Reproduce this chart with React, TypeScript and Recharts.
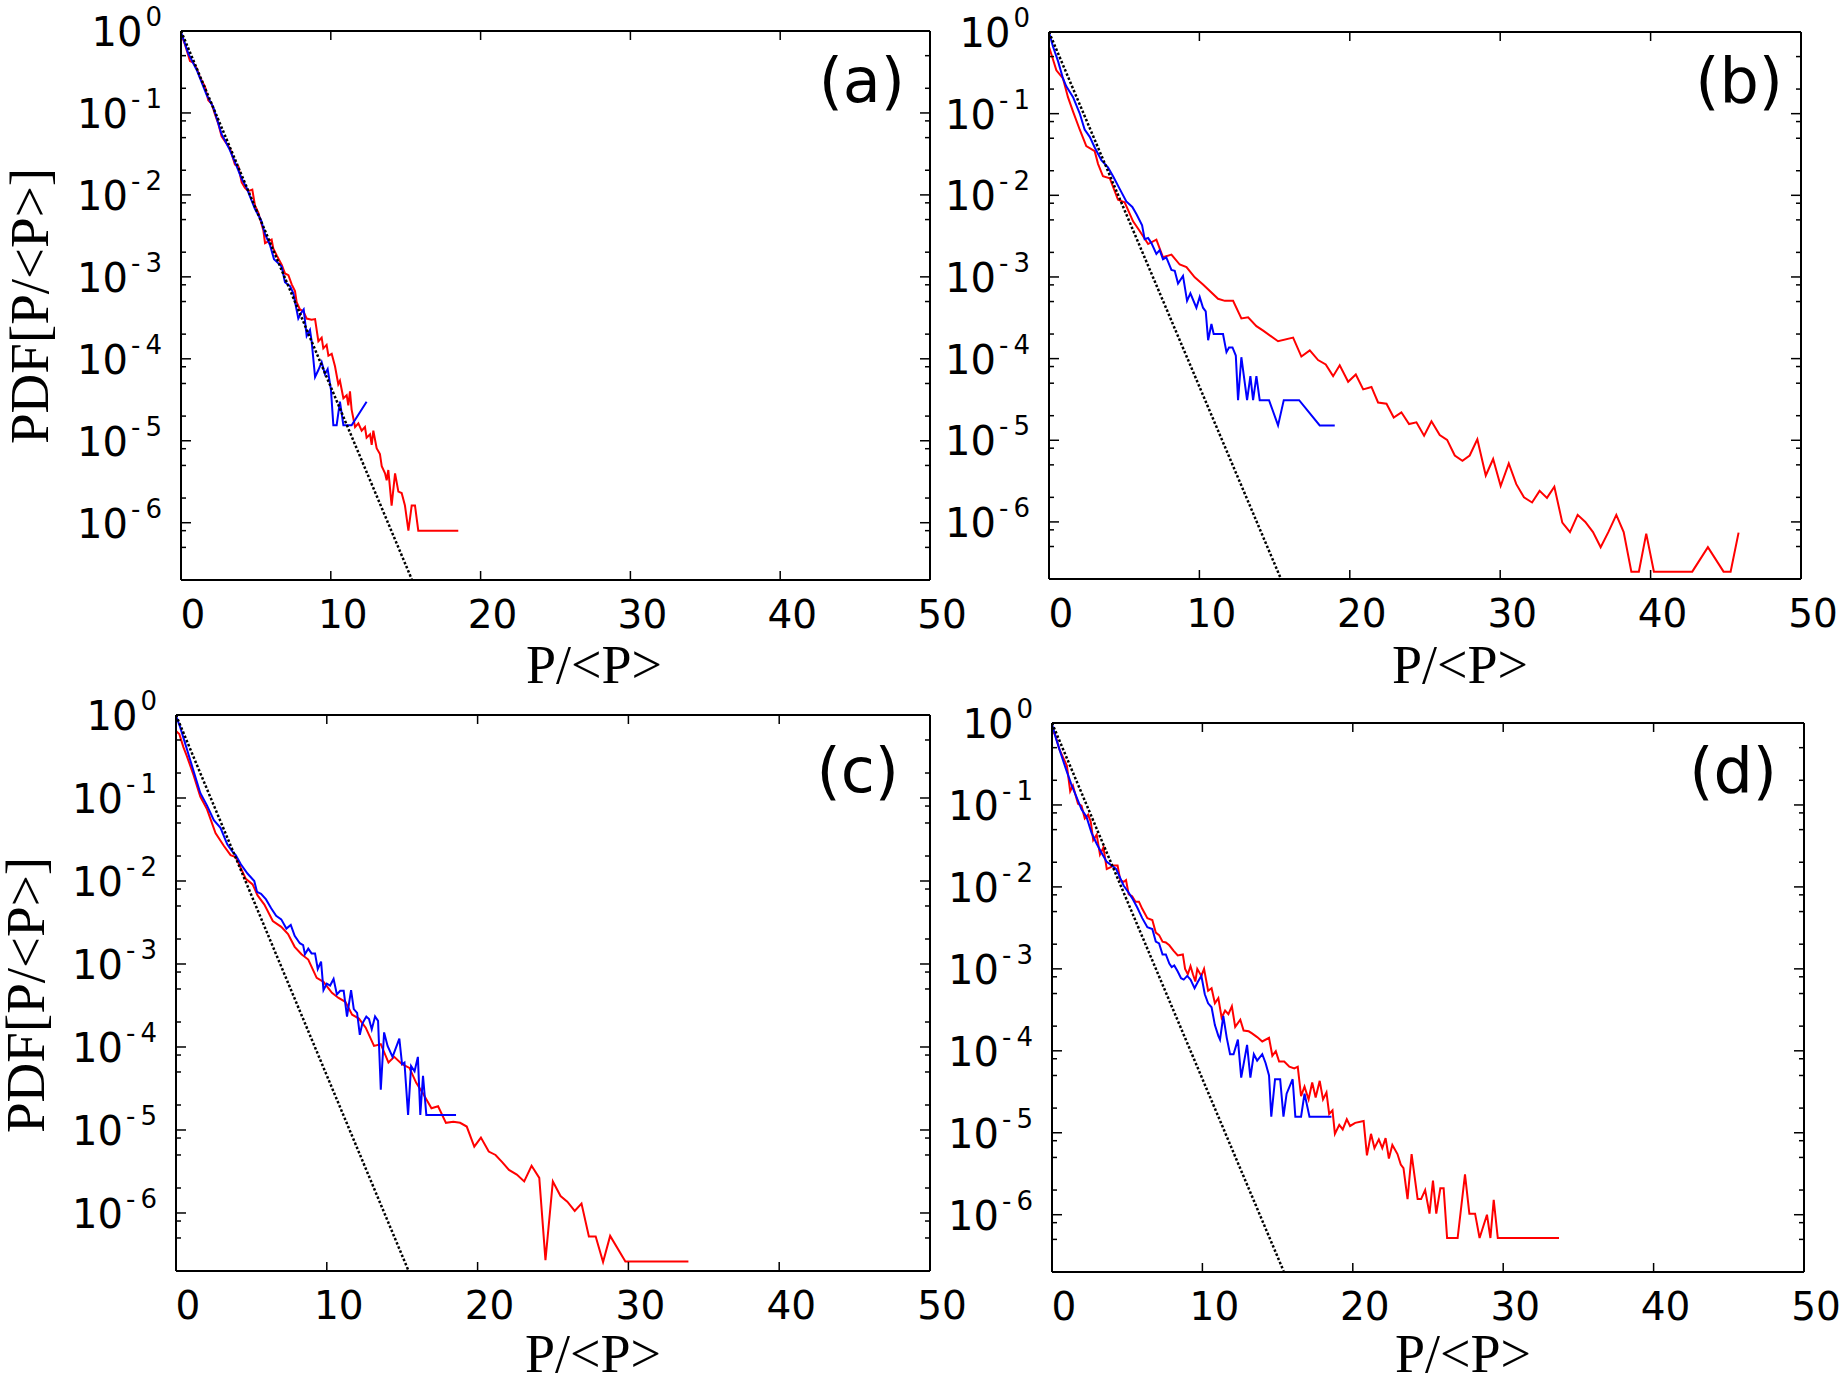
import React from 'react';
import { LineChart, Line, XAxis, YAxis } from 'recharts';

type Pair = [number, number];

// axes
const xDomain: [number, number] = [0, 50];
const yDomain: [number, number] = [2e-7, 1];
const xTicks = [0, 10, 20, 30, 40, 50];
const xTopTicks = [10, 20, 30, 40];
const yMajorTicks = [1, 1e-1, 1e-2, 1e-3, 1e-4, 1e-5, 1e-6];
const yMinorTicks = [
  0.5, 0.2, 0.08, 0.05, 0.02, 8e-3, 5e-3, 2e-3, 8e-4, 5e-4, 2e-4, 8e-5, 5e-5, 2e-5, 8e-6,
  5e-6, 2e-6, 8e-7, 5e-7,
];

const xTitle = 'P/<P>';
const yTitle = 'PDF[P/<P>]';
const panelLabels = ['(a)', '(b)', '(c)', '(d)'];

// exponential reference: (0, 1) to where it leaves the frame
const expRef: Pair[] = [[0, 1], [15.4, 2.05e-7]];

// panel (a)
const aRed: Pair[] = [
  [0, 0.93], [0.27, 0.68], [0.6, 0.43], [0.82, 0.41], [1.05, 0.35], [1.27, 0.27], [1.6, 0.21],
  [1.82, 0.143], [2.05, 0.129], [2.27, 0.096], [2.49, 0.074], [2.71, 0.052], [2.94, 0.045],
  [3.27, 0.037], [3.6, 0.0235], [3.83, 0.0223], [4.05, 0.0142], [4.27, 0.0122], [4.49, 0.0111],
  [4.76, 0.0116], [4.94, 0.0074], [5.16, 0.0061], [5.5, 0.00367], [5.61, 0.00258], [5.83, 0.00271],
  [6.05, 0.00285], [6.16, 0.00222], [6.39, 0.00182], [6.72, 0.00141], [6.94, 0.0011], [7.17, 0.00105],
  [7.39, 8.1e-4], [7.61, 6.7e-4], [7.72, 4.9e-4], [7.94, 4.0e-4], [8.17, 3.8e-4], [8.39, 3.1e-4],
  [8.72, 3.0e-4], [8.95, 3.05e-4], [9.17, 1.64e-4], [9.39, 1.81e-4], [9.5, 1.34e-4], [9.72, 1.48e-4],
  [9.84, 1.09e-4], [10.06, 1.15e-4], [10.28, 8.1e-5], [10.5, 4.9e-5], [10.61, 5.4e-5], [10.84, 3.3e-5],
  [11.06, 3.6e-5], [11.17, 2.7e-5], [11.28, 4.0e-5], [11.39, 2.4e-5], [11.62, 1.47e-5], [11.84, 1.63e-5],
  [12.06, 1.33e-5], [12.28, 1.47e-5], [12.39, 1.09e-5], [12.62, 1.2e-5], [12.73, 8.9e-6], [12.84, 1.33e-5],
  [13.06, 8.1e-6], [13.28, 6.9e-6], [13.4, 4.9e-6], [13.62, 4.0e-6], [13.73, 3.3e-6], [13.84, 4.4e-6],
  [14.06, 1.62e-6], [14.29, 4.0e-6], [14.51, 2.4e-6], [14.73, 2.3e-6], [14.95, 1.62e-6], [15.18, 8.0e-7],
  [15.4, 1.62e-6], [15.62, 1.62e-6], [15.84, 8.0e-7], [18.51, 8.0e-7],
];
const aBlue: Pair[] = [
  [0, 0.97], [0.49, 0.53], [1.05, 0.335], [1.71, 0.166], [2.16, 0.117], [2.71, 0.055], [2.94, 0.046],
  [3.27, 0.035], [3.72, 0.0223], [4.05, 0.0157], [4.38, 0.0122], [4.94, 0.0067], [5.34, 0.00495],
  [5.61, 0.00332], [5.94, 0.00245], [6.21, 0.00164], [6.5, 0.00146], [6.72, 0.00134], [6.94, 8.6e-4],
  [7.28, 7.7e-4], [7.5, 6.3e-4], [7.83, 3.1e-4], [8.01, 3.6e-4], [8.19, 4.0e-4], [8.39, 1.9e-4],
  [8.61, 2.25e-4], [8.72, 1.64e-4], [8.95, 6.0e-5], [9.17, 7.3e-5], [9.39, 9.1e-5], [9.61, 6.5e-5],
  [9.79, 7.5e-5], [10.01, 4.2e-5], [10.17, 1.55e-5], [10.39, 1.55e-5], [10.61, 3.0e-5], [10.84, 1.55e-5],
  [11.39, 1.55e-5], [12.39, 3.0e-5],
];

// panel (b)
const bRed: Pair[] = [
  [0, 0.66], [0.22, 0.49], [0.49, 0.34], [0.93, 0.27], [1.26, 0.159], [1.6, 0.106], [2.04, 0.064],
  [2.48, 0.04], [3.04, 0.0347], [3.26, 0.0243], [3.59, 0.0171], [4.04, 0.0162], [4.59, 0.0088],
  [5.03, 0.0082], [5.59, 0.0048], [6.03, 0.00365], [6.59, 0.00253], [7.14, 0.00286], [7.58, 0.00174],
  [8.14, 0.00188], [8.69, 0.00142], [9.14, 0.00132], [9.69, 9.9e-4], [10.24, 8.1e-4], [11.24, 5.4e-4],
  [11.69, 5.1e-4], [12.24, 5.1e-4], [12.79, 3.1e-4], [13.24, 3.2e-4], [13.79, 2.5e-4], [14.24, 2.2e-4],
  [15.23, 1.63e-4], [16.23, 1.81e-4], [16.78, 1.06e-4], [17.34, 1.26e-4], [17.89, 9.6e-5], [18.4, 8.5e-5],
  [18.89, 6.1e-5], [19.33, 8.3e-5], [19.89, 5.2e-5], [20.4, 6.4e-5], [20.89, 4.2e-5], [21.44, 4.5e-5],
  [21.88, 2.9e-5], [22.44, 2.8e-5], [22.92, 1.9e-5], [23.43, 2.2e-5], [23.94, 1.58e-5], [24.43, 1.66e-5],
  [24.94, 1.14e-5], [25.43, 1.71e-5], [25.98, 1.16e-5], [26.47, 1.01e-5], [26.98, 6.5e-6], [27.49, 5.6e-6],
  [27.97, 6.5e-6], [28.48, 1.03e-5], [29.04, 3.7e-6], [29.53, 5.9e-6], [30.03, 2.75e-6], [30.57, 5.2e-6],
  [31.07, 2.9e-6], [31.58, 2.0e-6], [32.12, 1.73e-6], [32.62, 2.4e-6], [33.11, 1.97e-6], [33.6, 2.7e-6],
  [34.13, 9.8e-7], [34.64, 7.5e-7], [35.15, 1.22e-6], [35.66, 1.0e-6], [36.17, 7.5e-7], [36.68, 4.9e-7],
  [37.19, 7.5e-7], [37.72, 1.22e-6], [38.21, 7.5e-7], [38.72, 2.46e-7], [39.22, 2.46e-7], [39.71, 7.2e-7],
  [40.22, 2.46e-7], [42.77, 2.46e-7], [43.81, 4.9e-7], [44.85, 2.46e-7], [45.32, 2.46e-7], [45.85, 7.4e-7],
];
const bBlue: Pair[] = [
  [0, 0.99], [0.27, 0.66], [0.6, 0.44], [0.93, 0.27], [1.15, 0.216], [1.6, 0.159], [2.04, 0.101],
  [2.37, 0.064], [2.71, 0.052], [3.04, 0.0385], [3.48, 0.0269], [3.92, 0.022], [4.26, 0.0171],
  [4.7, 0.012], [5.14, 0.0084], [5.54, 0.0072], [5.81, 0.0059], [6.19, 0.0043], [6.36, 0.0029],
  [6.59, 0.003], [6.81, 0.0026], [7.14, 0.00192], [7.36, 0.00213], [7.58, 0.00165], [7.8, 0.00174],
  [8.14, 0.00122], [8.36, 0.00119], [8.58, 8.3e-4], [8.91, 0.00103], [9.18, 5.1e-4], [9.4, 6.3e-4],
  [9.8, 4.2e-4], [10.02, 5.7e-4], [10.24, 4.2e-4], [10.42, 3.8e-4], [10.58, 1.68e-4], [10.8, 2.65e-4],
  [10.95, 2.0e-4], [11.57, 2.0e-4], [11.8, 1.2e-4], [11.97, 1.37e-4], [12.2, 1.37e-4], [12.42, 1.09e-4],
  [12.57, 3.1e-5], [12.79, 1.04e-4], [13.17, 3.1e-5], [13.39, 6.1e-5], [13.57, 3.1e-5], [13.79, 6.1e-5],
  [14.01, 3.1e-5], [14.63, 3.1e-5], [15.23, 1.52e-5], [15.61, 3.1e-5], [16.63, 3.1e-5], [18, 1.52e-5],
  [19, 1.52e-5],
];

// panel (c)
const cRed: Pair[] = [
  [0, 0.64], [0.22, 0.59], [0.49, 0.41], [0.72, 0.32], [1.16, 0.19], [1.61, 0.104], [2.06, 0.073],
  [2.62, 0.0377], [3.18, 0.0264], [3.62, 0.0205], [3.96, 0.0194], [4.3, 0.0143], [4.63, 0.0106],
  [5.08, 0.0091], [5.41, 0.0067], [5.86, 0.0052], [6.42, 0.0033], [6.98, 0.0028], [7.43, 0.0023],
  [7.87, 0.00161], [8.32, 0.00131], [8.77, 0.00113], [9.33, 6.8e-4], [9.78, 6.1e-4], [10.34, 4.5e-4],
  [10.78, 3.9e-4], [11.23, 3.5e-4], [11.68, 2.45e-4], [12.13, 2.2e-4], [12.58, 1.71e-4], [13.13, 1.03e-4],
  [13.58, 1.08e-4], [14.09, 6.5e-5], [14.47, 7.6e-5], [14.99, 6.2e-5], [15.48, 5.6e-5], [15.93, 3.7e-5],
  [16.38, 2.75e-5], [16.94, 1.83e-5], [17.38, 1.93e-5], [17.9, 1.22e-5], [18.39, 1.26e-5], [18.84, 1.22e-5],
  [19.28, 1.1e-5], [19.78, 6.3e-6], [20.22, 8.1e-6], [20.74, 5.5e-6], [21.19, 5.0e-6], [21.63, 4.1e-6],
  [22.08, 3.3e-6], [22.6, 2.9e-6], [23.09, 2.4e-6], [23.58, 3.7e-6], [24.09, 2.65e-6], [24.5, 2.7e-7],
  [24.99, 2.4e-6], [25.5, 1.6e-6], [25.95, 1.37e-6], [26.44, 1.06e-6], [26.89, 1.3e-6], [27.38, 5.2e-7],
  [27.83, 5.2e-7], [28.32, 2.56e-7], [28.79, 5.3e-7], [29.8, 2.6e-7], [33.98, 2.6e-7],
];
const cBlue: Pair[] = [
  [0, 0.975], [0.27, 0.72], [0.72, 0.39], [1.16, 0.212], [1.61, 0.115], [2.06, 0.081], [2.51, 0.054],
  [2.95, 0.0438], [3.4, 0.0277], [3.74, 0.0226], [3.96, 0.0205], [4.3, 0.0159], [4.74, 0.0123],
  [5.19, 0.01], [5.37, 0.0074], [5.64, 0.007], [5.97, 0.006], [6.31, 0.0047], [6.64, 0.0038],
  [6.98, 0.00345], [7.32, 0.00267], [7.61, 0.00296], [7.87, 0.00218], [8.21, 0.00178], [8.43, 0.00169],
  [8.55, 0.00131], [8.77, 0.00153], [8.99, 0.00134], [9.22, 0.00134], [9.4, 8.7e-4], [9.62, 0.00107],
  [9.78, 4.85e-4], [10, 5.8e-4], [10.22, 5.5e-4], [10.45, 6.6e-4], [10.67, 4.3e-4], [10.89, 4.75e-4],
  [11.12, 4.75e-4], [11.34, 2.33e-4], [11.61, 4.85e-4], [11.79, 2.86e-4], [12.01, 2.58e-4], [12.19, 1.4e-4],
  [12.35, 1.9e-4], [12.62, 2.33e-4], [12.8, 2.17e-4], [12.98, 1.63e-4], [13.2, 2.33e-4], [13.4, 2.06e-4],
  [13.58, 3.05e-5], [13.8, 1.5e-4], [14.03, 1.03e-4], [14.36, 7.6e-5], [14.81, 1.26e-4], [14.99, 6.2e-5],
  [15.15, 6.5e-5], [15.39, 1.52e-5], [15.59, 5.9e-5], [15.82, 5.1e-5], [16.04, 7.6e-5], [16.2, 1.52e-5],
  [16.38, 4.5e-5], [16.6, 1.52e-5], [18.57, 1.52e-5],
];

// panel (d)
const dRed: Pair[] = [
  [0, 0.83], [0.22, 0.71], [0.49, 0.475], [0.83, 0.35], [0.99, 0.3], [1.21, 0.147], [1.39, 0.172],
  [1.73, 0.103], [1.96, 0.098], [2.18, 0.0686], [2.4, 0.076], [2.58, 0.062], [2.74, 0.0372],
  [2.97, 0.0434], [3.19, 0.0248], [3.42, 0.0303], [3.64, 0.0165], [3.87, 0.0173], [4.09, 0.0182],
  [4.36, 0.0182], [4.54, 0.0121], [4.76, 0.0115], [4.92, 0.0121], [5.1, 0.0081], [5.33, 0.0077],
  [5.55, 0.0066], [5.78, 0.0066], [6, 0.0054], [6.34, 0.00416], [6.67, 0.00395], [6.9, 0.00277],
  [7.12, 0.00258], [7.35, 0.00215], [7.57, 0.0021], [7.8, 0.00194], [8.09, 0.00166], [8.36, 0.00146],
  [8.7, 0.0015], [8.85, 0.001], [9.03, 8.6e-4], [9.21, 0.00108], [9.37, 8.6e-4], [9.53, 7.0e-4],
  [9.66, 0.001], [9.93, 8.2e-4], [10.11, 0.001], [10.38, 5.4e-4], [10.61, 5.8e-4], [10.83, 3.8e-4],
  [11.06, 4.4e-4], [11.28, 2.53e-4], [11.51, 3.1e-4], [11.73, 2.8e-4], [11.96, 3.5e-4], [12.18, 1.96e-4],
  [12.52, 2.4e-4], [12.74, 1.77e-4], [13.08, 1.73e-4], [13.3, 1.63e-4], [13.64, 1.47e-4], [13.98, 1.3e-4],
  [14.43, 1.44e-4], [14.65, 8.7e-5], [14.88, 9.9e-5], [15.1, 7.4e-5], [15.44, 7.4e-5], [15.78, 6.4e-5],
  [16.11, 6.1e-5], [16.34, 6.4e-5], [16.56, 2.8e-5], [16.79, 3.65e-5], [17.06, 2.55e-5], [17.3, 4.1e-5],
  [17.53, 2.7e-5], [17.8, 4.3e-5], [18.02, 2.55e-5], [18.25, 3.1e-5], [18.43, 1.7e-5], [18.65, 1.88e-5],
  [18.81, 9.7e-6], [19.1, 1.25e-5], [19.33, 1.1e-5], [19.6, 1.46e-5], [19.82, 1.21e-5], [20.16, 1.32e-5],
  [20.72, 1.39e-5], [20.94, 5.3e-6], [21.21, 9.7e-6], [21.44, 6.5e-6], [21.73, 8.3e-6], [21.96, 6.5e-6],
  [22.18, 8.6e-6], [22.4, 4.85e-6], [22.63, 7.1e-6], [22.97, 5.5e-6], [23.19, 4.1e-6], [23.37, 3.7e-6],
  [23.64, 1.55e-6], [23.91, 5.5e-6], [24.31, 1.55e-6], [24.54, 1.55e-6], [24.81, 2.0e-6], [25.1, 1.03e-6],
  [25.33, 2.6e-6], [25.55, 1.03e-6], [25.82, 2.1e-6], [26.04, 2.1e-6], [26.27, 5.2e-7], [26.97, 5.2e-7],
  [27.46, 3.1e-6], [27.75, 1.03e-6], [28.13, 1.03e-6], [28.43, 5.2e-7], [28.92, 1.0e-6], [29.15, 5.2e-7],
  [29.37, 1.52e-6], [29.64, 5.2e-7], [33.71, 5.2e-7],
];
const dBlue: Pair[] = [
  [0, 0.97], [0.27, 0.645], [0.61, 0.41], [0.94, 0.27], [1.28, 0.18], [1.62, 0.126], [1.96, 0.0885],
  [2.29, 0.072], [2.63, 0.0456], [2.97, 0.0336], [3.3, 0.026], [3.64, 0.0202], [3.98, 0.0182],
  [4.27, 0.0165], [4.54, 0.0128], [4.76, 0.0104], [5.1, 0.0085], [5.33, 0.0073], [5.66, 0.00565],
  [6, 0.00416], [6.34, 0.00323], [6.67, 0.00307], [6.9, 0.00215], [7.12, 0.00204], [7.35, 0.0015],
  [7.57, 0.0015], [7.8, 0.00116], [7.96, 0.00105], [8.13, 0.0011], [8.36, 9.3e-4], [8.58, 7.7e-4],
  [8.76, 7.4e-4], [8.99, 8.2e-4], [9.21, 7.4e-4], [9.48, 5.8e-4], [9.71, 7.0e-4], [9.93, 8.2e-4],
  [10.16, 4.9e-4], [10.38, 3.8e-4], [10.61, 3.4e-4], [10.83, 2.06e-4], [11.06, 1.52e-4], [11.17, 1.37e-4],
  [11.39, 2.66e-4], [11.62, 1.44e-4], [11.84, 9.1e-5], [12.07, 9.1e-5], [12.36, 1.37e-4], [12.58, 4.7e-5],
  [12.97, 1.18e-4], [13.19, 4.7e-5], [13.42, 9.1e-5], [13.64, 7.6e-5], [13.98, 9.1e-5], [14.2, 7.1e-5],
  [14.43, 5.0e-5], [14.58, 1.57e-5], [14.83, 4.5e-5], [15.17, 4.5e-5], [15.39, 1.57e-5], [15.6, 3.0e-5],
  [16, 4.5e-5], [16.18, 1.57e-5], [16.56, 1.57e-5], [16.79, 3.0e-5], [17.12, 1.57e-5], [18.58, 1.57e-5],
];

const toPoints = (pairs: Pair[]) => pairs.map(([x, y]) => ({ x, y }));

const TICK_FONT = 'DejaVu Sans, Verdana, sans-serif';
const TITLE_FONT = 'Liberation Serif, Times New Roman, serif';

const isMajor = (v: number) => {
  const e = Math.log10(v);
  return Math.abs(e - Math.round(e)) < 1e-6;
};

function LeftTick(props: any) {
  const { x, y, payload } = props;
  const v = payload.value as number;
  const major = isMajor(v);
  const k = Math.round(Math.log10(v));
  return (
    <g>
      <line x1={x} x2={x + (major ? 10 : 5)} y1={y} y2={y} stroke="#000" strokeWidth={1.5} />
      {major && (
        <text x={x - 19} y={y + 15} textAnchor="end" fontFamily={TICK_FONT} fontSize={40} fill="#000">
          10
          <tspan dx={3} dy={-20} fontSize={26}>
            {k === 0 ? '0' : `-\u2009${-k}`}
          </tspan>
        </text>
      )}
    </g>
  );
}

function RightTick(props: any) {
  const { x, y, payload } = props;
  const len = isMajor(payload.value) ? 10 : 5;
  return <line x1={x} x2={x - len} y1={y} y2={y} stroke="#000" strokeWidth={1.5} />;
}

function BottomTick(props: any) {
  const { x, y, payload } = props;
  return (
    <g>
      <line x1={x} x2={x} y1={y} y2={y - 9} stroke="#000" strokeWidth={1.5} />
      <text x={x + 12} y={y + 48} textAnchor="middle" fontFamily={TICK_FONT} fontSize={39} fill="#000">
        {payload.value}
      </text>
    </g>
  );
}

function TopTick(props: any) {
  const { x, y } = props;
  return <line x1={x} x2={x} y1={y} y2={y + 9} stroke="#000" strokeWidth={1.5} />;
}

type Box = { left: number; top: number; width: number; height: number };
type Plot = { left: number; top: number; right: number; bottom: number };

const frame = { stroke: '#000', strokeWidth: 2 };
// each axis gets a 1px band (Recharts skips axes with zero size)
const AX = 1;

function Panel({ box, plot, red, blue }: { box: Box; plot: Plot; red: Pair[]; blue: Pair[] }) {
  const margin = {
    left: plot.left - box.left - AX,
    top: plot.top - box.top - AX,
    right: box.left + box.width - plot.right - AX,
    bottom: box.top + box.height - plot.bottom - AX,
  };
  return (
    <div style={{ position: 'absolute', left: box.left, top: box.top }}>
      <LineChart width={box.width} height={box.height} margin={margin}>
        <XAxis
          xAxisId="b"
          dataKey="x"
          type="number"
          domain={xDomain}
          ticks={xTicks}
          interval={0}
          height={AX}
          tickSize={0}
          tickMargin={0}
          tickLine={false}
          axisLine={frame}
          tick={BottomTick}
          allowDataOverflow
        />
        <XAxis
          xAxisId="t"
          orientation="top"
          dataKey="x"
          type="number"
          domain={xDomain}
          ticks={xTopTicks}
          interval={0}
          height={AX}
          tickSize={0}
          tickMargin={0}
          tickLine={false}
          axisLine={frame}
          tick={TopTick}
          allowDataOverflow
        />
        <YAxis
          yAxisId="l"
          dataKey="y"
          scale="log"
          type="number"
          domain={yDomain}
          ticks={[...yMajorTicks, ...yMinorTicks]}
          interval={0}
          width={AX}
          tickSize={0}
          tickMargin={0}
          tickLine={false}
          axisLine={frame}
          tick={LeftTick}
          allowDataOverflow
        />
        <YAxis
          yAxisId="r"
          orientation="right"
          dataKey="y"
          scale="log"
          type="number"
          domain={yDomain}
          ticks={[...yMajorTicks, ...yMinorTicks]}
          interval={0}
          width={AX}
          tickSize={0}
          tickMargin={0}
          tickLine={false}
          axisLine={frame}
          tick={RightTick}
          allowDataOverflow
        />
        <Line
          xAxisId="b"
          yAxisId="l"
          data={toPoints(red)}
          dataKey="y"
          stroke="#ff0000"
          strokeWidth={2}
          dot={false}
          isAnimationActive={false}
        />
        <Line
          xAxisId="b"
          yAxisId="l"
          data={toPoints(blue)}
          dataKey="y"
          stroke="#0000ff"
          strokeWidth={2}
          dot={false}
          isAnimationActive={false}
        />
        <Line
          xAxisId="t"
          yAxisId="r"
          data={toPoints(expRef)}
          dataKey="y"
          stroke="#000"
          strokeWidth={2.5}
          strokeDasharray="2.5 2"
          dot={false}
          isAnimationActive={false}
        />
      </LineChart>
    </div>
  );
}

const panels = [
  {
    box: { left: 0, top: 0, width: 990, height: 700 },
    plot: { left: 181, top: 31, right: 930, bottom: 580 },
    red: aRed,
    blue: aBlue,
  },
  {
    box: { left: 900, top: 0, width: 940, height: 700 },
    plot: { left: 1049, top: 32, right: 1801, bottom: 579 },
    red: bRed,
    blue: bBlue,
  },
  {
    box: { left: 0, top: 650, width: 990, height: 728 },
    plot: { left: 176, top: 715, right: 930, bottom: 1271 },
    red: cRed,
    blue: cBlue,
  },
  {
    box: { left: 900, top: 650, width: 940, height: 728 },
    plot: { left: 1052, top: 723, right: 1804, bottom: 1272 },
    red: dRed,
    blue: dBlue,
  },
];

const xTitlePos = [[594, 683], [1460, 683], [593, 1372], [1463, 1372]];
const yTitlePos = [[48, 306], [44, 995]];
const labelPos = [[905, 102], [1783, 102], [899, 792], [1777, 792]];

export default function App() {
  return (
    <div
      style={{
        position: 'absolute',
        left: 0,
        top: 0,
        width: 1840,
        height: 1378,
        background: '#fff',
        overflow: 'hidden',
      }}
    >
      {panels.map((p, i) => (
        <Panel key={i} box={p.box} plot={p.plot} red={p.red} blue={p.blue} />
      ))}
      <svg
        width={1840}
        height={1378}
        style={{ position: 'absolute', left: 0, top: 0, pointerEvents: 'none' }}
      >
        {xTitlePos.map(([x, y], i) => (
          <text key={'x' + i} x={x} y={y} textAnchor="middle" fontFamily={TITLE_FONT} fontSize={54} fill="#000">
            {xTitle}
          </text>
        ))}
        {yTitlePos.map(([x, y], i) => (
          <text
            key={'y' + i}
            transform={`translate(${x},${y}) rotate(-90)`}
            textAnchor="middle"
            fontFamily={TITLE_FONT}
            fontSize={55}
            fill="#000"
          >
            {yTitle}
          </text>
        ))}
        {labelPos.map(([x, y], i) => (
          <text key={'l' + i} x={x} y={y} textAnchor="end" fontFamily={TICK_FONT} fontSize={62} fill="#000">
            {panelLabels[i]}
          </text>
        ))}
      </svg>
    </div>
  );
}
